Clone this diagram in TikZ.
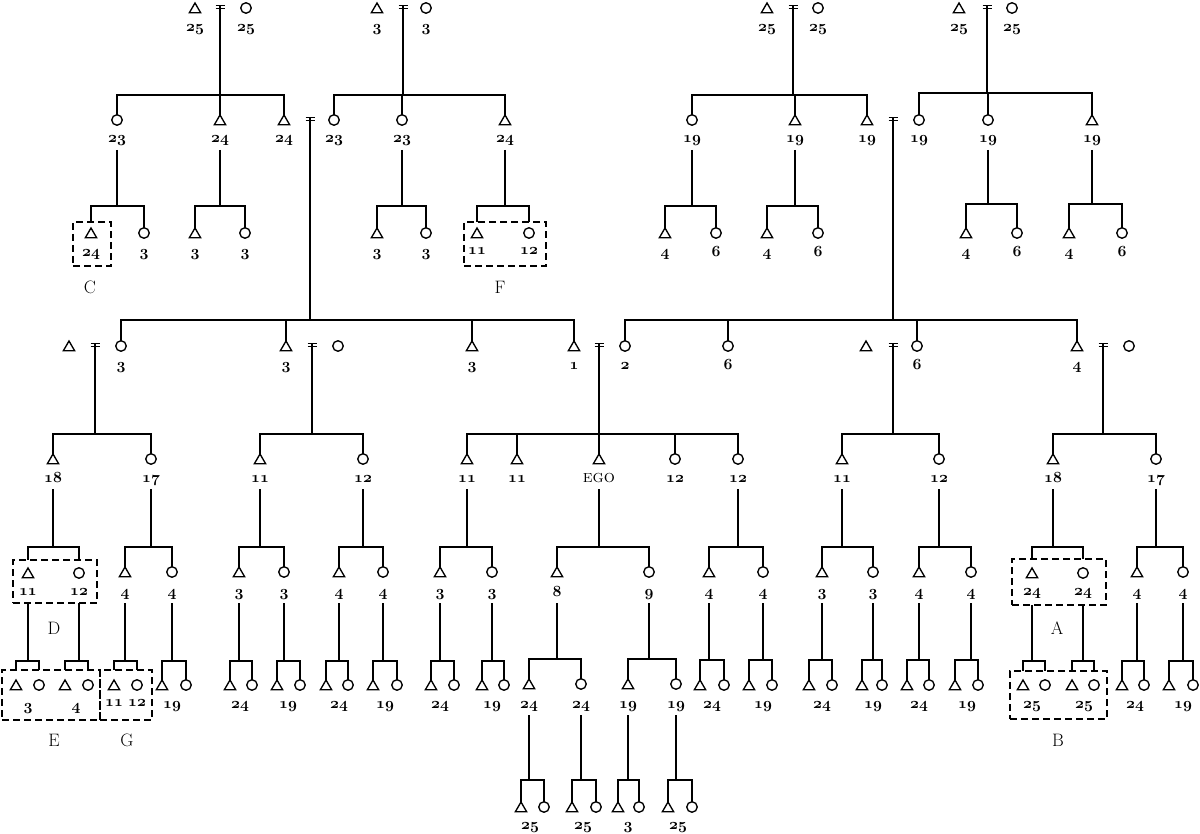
\RequirePackage{fix-cm}
\documentclass[tikz,border=0pt]{standalone}
\usetikzlibrary{shapes.geometric,fit}
\newcommand\osn[1]{{\fontsize{15.5}{17}\usefont{OML}{cmm}{b}{it}#1}}
\newcommand\Tri[3]{\node[male] (#1) at (#2,#3) {};}
\newcommand\Cir[3]{\node[female] (#1) at (#2,#3) {};}
\newcommand\Lab[4]{\node[lab] (#1) at (#2,#3) {\osn{#4}};}
\newcommand\Ltr[4]{\node[ltr] (#1) at (#2,#3) {\fontsize{18}{20}\selectfont #4};}
\newcommand\Eq[3]{\node[eqn] (#1) at (#2,#3) {};\draw[eqline] (#1.north west) -- (#1.north east) (#1.south west) -- (#1.south east);}
\newcommand\DBox[5]{\node[dbox, fit={(#2,#3) (#4,#5)}] (#1) {};}
\newcommand\Fam[6][0pt]{%
  \draw[ln, shorten <=#1] (#2) -- (#2 |- 0,#3);
  \draw[bar] (#4 |- 0,#3) -- (#5 |- 0,#3);
  \foreach \c in {#6}{\edef\famtmp{\noexpand\draw[ln] (\c |- 0,#3) -- (\c);}\famtmp}%
}
\begin{document}
\begin{tikzpicture}[x=1pt,y=-1pt,
 male/.style={regular polygon,regular polygon sides=3,draw,line width=1.35pt,minimum size=13pt,inner sep=0pt,outer sep=0pt,yshift=-1.5pt},
 female/.style={circle,draw,line width=1.35pt,minimum size=10.5pt,inner sep=0pt,outer sep=0pt},
 lab/.style={anchor=base,inner sep=0pt,outer sep=0pt,text depth=4pt},
 ltr/.style={anchor=base,inner sep=0pt},
 eqn/.style={minimum width=9pt,minimum height=3pt,inner sep=0pt,outer sep=0pt},
 eqline/.style={line width=1.3pt},
 ln/.style={line width=1.7pt},
 bar/.style={line width=2.3pt,line cap=rect},
 dbox/.style={draw,dash pattern=on 7pt off 4pt,line width=1.5pt,inner sep=0pt,outer sep=0pt}]
\useasboundingbox (0,0) rectangle (1200,834);

% ---------------- top couples
\Tri{t1m}{195}{8}\Eq{t1e}{220}{7}\Cir{t1f}{246}{8}
\Lab{t1ml}{195}{32}{25}\Lab{t1fl}{246}{32}{25}
\Tri{t2m}{377}{8}\Eq{t2e}{403}{7}\Cir{t2f}{426}{8}
\Lab{t2ml}{377}{32}{3}\Lab{t2fl}{426}{32}{3}
\Tri{t3m}{767}{8}\Eq{t3e}{793}{7}\Cir{t3f}{818}{8}
\Lab{t3ml}{767}{32}{25}\Lab{t3fl}{818}{32}{25}
\Tri{t4m}{959}{8}\Eq{t4e}{987}{7}\Cir{t4f}{1012}{8}
\Lab{t4ml}{959}{32}{25}\Lab{t4fl}{1012}{32}{25}

% ---------------- second row
\Cir{a1}{117}{120}\Lab{a1l}{117}{143}{23}
\Tri{a2}{220}{120}\Lab{a2l}{220}{143}{24}
\Tri{a3}{284}{120}\Lab{a3l}{284}{143}{24}
\Eq{a3e}{310}{119}
\Cir{b1}{334}{120}\Lab{b1l}{334}{143}{23}
\Cir{b2}{402}{120}\Lab{b2l}{402}{143}{23}
\Tri{b3}{505}{120}\Lab{b3l}{505}{143}{24}
\Cir{c1}{692}{120}\Lab{c1l}{692}{143}{19}
\Tri{c2}{795}{120}\Lab{c2l}{795}{143}{19}
\Tri{c3}{867}{120}\Lab{c3l}{867}{143}{19}
\Eq{c3e}{893}{119}
\Cir{d1}{919}{120}\Lab{d1l}{919}{143}{19}
\Cir{d2}{988}{120}\Lab{d2l}{988}{143}{19}
\Tri{d3}{1092}{120}\Lab{d3l}{1092}{143}{19}

\Fam{t1e.north}{95}{a1.north}{a3.north}{a1.north,a2.north,a3.north}
\Fam{t2e.north}{95}{b1.north}{b3.north}{b1.north,b2.north,b3.north}
\Fam{t3e.north}{95}{c1.north}{c3.north}{c1.north,c2.north,c3.north}
\Fam{t4e.north}{93}{d1.north}{d3.north}{d1.north,d2.north,d3.north}

% ---------------- third row
\Tri{a1k1}{91}{233}\Lab{a1k1l}{91}{257}{24}
\Cir{a1k2}{144}{233}\Lab{a1k2l}{144}{257}{3}
\DBox{boxC}{73}{222}{111}{266}
\coordinate (a1k1t) at (a1k1 |- boxC.north);
\Ltr{ltrC}{90}{294}{C}
\Fam[3pt]{a1l.south}{206}{a1k1t}{a1k2.north}{a1k1t,a1k2.north}

\Tri{a2k1}{195}{233}\Lab{a2k1l}{195}{257}{3}
\Cir{a2k2}{245}{233}\Lab{a2k2l}{245}{257}{3}
\Fam[3pt]{a2l.south}{206}{a2k1.north}{a2k2.north}{a2k1.north,a2k2.north}

\Tri{b2k1}{377}{233}\Lab{b2k1l}{377}{257}{3}
\Cir{b2k2}{426}{233}\Lab{b2k2l}{426}{257}{3}
\Fam[3pt]{b2l.south}{206}{b2k1.north}{b2k2.north}{b2k1.north,b2k2.north}

\Tri{b3k1}{477}{233}\Lab{b3k1l}{477}{255}{11}
\Cir{b3k2}{529}{233}\Lab{b3k2l}{529}{255}{12}
\DBox{boxF}{464}{222}{546}{266}
\coordinate (b3k1t) at (b3k1 |- boxF.north);
\coordinate (b3k2t) at (b3k2 |- boxF.north);
\Ltr{ltrF}{500}{294}{F}
\Fam[3pt]{b3l.south}{206}{b3k1t}{b3k2t}{b3k1t,b3k2t}

\Tri{c1k1}{665}{233}\Lab{c1k1l}{665}{257}{4}
\Cir{c1k2}{716}{233}\Lab{c1k2l}{716}{257}{6}
\Fam[3pt]{c1l.south}{206}{c1k1.north}{c1k2.north}{c1k1.north,c1k2.north}
\Tri{c2k1}{767}{233}\Lab{c2k1l}{767}{257}{4}
\Cir{c2k2}{818}{233}\Lab{c2k2l}{818}{257}{6}
\Fam[3pt]{c2l.south}{206}{c2k1.north}{c2k2.north}{c2k1.north,c2k2.north}
\Tri{d2k1}{966}{233}\Lab{d2k1l}{966}{257}{4}
\Cir{d2k2}{1017}{233}\Lab{d2k2l}{1017}{257}{6}
\Fam[3pt]{d2l.south}{204}{d2k1.north}{d2k2.north}{d2k1.north,d2k2.north}
\Tri{d3k1}{1069}{233}\Lab{d3k1l}{1069}{257}{4}
\Cir{d3k2}{1122}{233}\Lab{d3k2l}{1122}{257}{6}
\Fam[3pt]{d3l.south}{204}{d3k1.north}{d3k2.north}{d3k1.north,d3k2.north}

% ---------------- middle generation
\Tri{s1}{69}{346}\Eq{s1e}{95}{345}\Cir{m1}{121}{346}\Lab{m1l}{121}{370}{3}
\Tri{m2}{286}{346}\Lab{m2l}{286}{370}{3}\Eq{m2e}{312}{345}\Cir{s2}{338}{346}
\Tri{m3}{472}{346}\Lab{m3l}{472}{370}{3}
\Tri{m4}{574}{346}\Lab{m4l}{574}{370}{1}\Eq{m4e}{599}{345}
\Cir{n1}{625}{346}\Lab{n1l}{625}{370}{2}
\Cir{n2}{728}{346}\Lab{n2l}{728}{370}{6}
\Tri{s3}{866}{346}\Eq{s3e}{893}{345}\Cir{n3}{917}{346}\Lab{n3l}{917}{370}{6}
\Tri{n4}{1077}{346}\Lab{n4l}{1077}{370}{4}\Eq{n4e}{1103}{345}\Cir{s4}{1129}{346}

\Fam{a3e.north}{320}{m1.north}{m4.north}{m1.north,m2.north,m3.north,m4.north}
\Fam{c3e.north}{320}{n1.north}{n4.north}{n1.north,n2.north,n3.north,n4.north}

% ---------------- row N
\Tri{p1}{53}{459}\Lab{p1l}{53}{482}{18}
\Cir{p2}{151}{459}\Lab{p2l}{151}{482}{17}
\Tri{p3}{260}{459}\Lab{p3l}{260}{482}{11}
\Cir{p4}{363}{459}\Lab{p4l}{363}{482}{12}
\Tri{p5}{467}{459}\Lab{p5l}{467}{482}{11}
\Tri{p6}{517}{459}\Lab{p6l}{517}{482}{11}
\Tri{ego}{599}{459}\node[lab] (egol) at (599,482) {\fontsize{17.5}{19}\selectfont\textsc{ego}};
\Cir{p7}{675}{459}\Lab{p7l}{675}{482}{12}
\Cir{p8}{738}{459}\Lab{p8l}{738}{482}{12}
\Tri{p9}{842}{459}\Lab{p9l}{842}{482}{11}
\Cir{p10}{939}{459}\Lab{p10l}{939}{482}{12}
\Tri{p11}{1053}{459}\Lab{p11l}{1053}{482}{18}
\Cir{p12}{1156}{459}\Lab{p12l}{1156}{482}{17}

\Fam{s1e.north}{434}{p1.north}{p2.north}{p1.north,p2.north}
\Fam{m2e.north}{434}{p3.north}{p4.north}{p3.north,p4.north}
\Fam{m4e.north}{434}{p5.north}{p8.north}{p5.north,p6.north,ego.north,p7.north,p8.north}
\Fam{s3e.north}{434}{p9.north}{p10.north}{p9.north,p10.north}
\Fam{n4e.north}{434}{p11.north}{p12.north}{p11.north,p12.north}

% ---------------- row O
\Tri{q1}{28}{573}\Lab{q1l}{28}{595}{11}
\Cir{q2}{79}{573}\Lab{q2l}{79}{595}{12}
\DBox{boxD}{13}{560}{97}{603}
\coordinate (q1t) at (q1 |- boxD.north);\coordinate (q2t) at (q2 |- boxD.north);
\coordinate (q1b) at (q1 |- boxD.south);\coordinate (q2b) at (q2 |- boxD.south);
\Ltr{ltrD}{54}{634}{D}
\Tri{q3}{125}{572}\Lab{q3l}{125}{596}{4}
\Cir{q4}{172}{572}\Lab{q4l}{172}{596}{4}
\Tri{q5}{239}{572}\Lab{q5l}{239}{596}{3}
\Cir{q6}{284}{572}\Lab{q6l}{284}{596}{3}
\Tri{q7}{339}{572}\Lab{q7l}{339}{596}{4}
\Cir{q8}{383}{572}\Lab{q8l}{383}{596}{4}
\Tri{q9}{440}{572}\Lab{q9l}{440}{596}{3}
\Cir{q10}{492}{572}\Lab{q10l}{492}{596}{3}
\Tri{q11}{557}{572}\Lab{q11l}{557}{596}{8}
\Cir{q12}{649}{572}\Lab{q12l}{649}{596}{9}
\Tri{q13}{709}{572}\Lab{q13l}{709}{596}{4}
\Cir{q14}{763}{572}\Lab{q14l}{763}{596}{4}
\Tri{q15}{822}{572}\Lab{q15l}{822}{596}{3}
\Cir{q16}{873}{572}\Lab{q16l}{873}{596}{3}
\Tri{q17}{919}{572}\Lab{q17l}{919}{596}{4}
\Cir{q18}{971}{572}\Lab{q18l}{971}{596}{4}
\Tri{q19}{1032}{573}\Lab{q19l}{1032}{595}{24}
\Cir{q20}{1083}{573}\Lab{q20l}{1083}{595}{24}
\DBox{boxA}{1012}{559}{1106}{605}
\coordinate (q19t) at (q19 |- boxA.north);\coordinate (q20t) at (q20 |- boxA.north);
\coordinate (q19b) at (q19 |- boxA.south);\coordinate (q20b) at (q20 |- boxA.south);
\Ltr{ltrA}{1057}{634}{A}
\Tri{q21}{1137}{572}\Lab{q21l}{1137}{596}{4}
\Cir{q22}{1183}{572}\Lab{q22l}{1183}{596}{4}

\Fam[3pt]{p1l.south}{547}{q1t}{q2t}{q1t,q2t}
\Fam[3pt]{p2l.south}{547}{q3.north}{q4.north}{q3.north,q4.north}
\Fam[3pt]{p3l.south}{547}{q5.north}{q6.north}{q5.north,q6.north}
\Fam[3pt]{p4l.south}{547}{q7.north}{q8.north}{q7.north,q8.north}
\Fam[3pt]{p5l.south}{547}{q9.north}{q10.north}{q9.north,q10.north}
\Fam[3pt]{egol.south}{547}{q11.north}{q12.north}{q11.north,q12.north}
\Fam[3pt]{p8l.south}{547}{q13.north}{q14.north}{q13.north,q14.north}
\Fam[3pt]{p9l.south}{547}{q15.north}{q16.north}{q15.north,q16.north}
\Fam[3pt]{p10l.south}{547}{q17.north}{q18.north}{q17.north,q18.north}
\Fam[3pt]{p11l.south}{547}{q19t}{q20t}{q19t,q20t}
\Fam[3pt]{p12l.south}{547}{q21.north}{q22.north}{q21.north,q22.north}

% ---------------- row P
\Tri{r1}{16}{685}\Cir{r2}{39}{685}\Lab{rl1}{28}{710}{3}
\Tri{r3}{65}{685}\Cir{r4}{88}{685}\Lab{rl2}{76}{710}{4}
\DBox{boxE}{2}{670}{100}{720}
\Tri{r5}{114}{685}\Lab{r5l}{114}{706}{11}
\Cir{r6}{137}{685}\Lab{r6l}{137}{706}{12}
\DBox{boxG}{100}{670}{152}{720}
\coordinate (r1t) at (r1 |- boxE.north);\coordinate (r2t) at (r2 |- boxE.north);
\coordinate (r3t) at (r3 |- boxE.north);\coordinate (r4t) at (r4 |- boxE.north);
\coordinate (r5t) at (r5 |- boxG.north);\coordinate (r6t) at (r6 |- boxG.north);
\Ltr{ltrE}{54}{746}{E}
\Ltr{ltrG}{127}{746}{G}
\Tri{r7}{162}{685}\Cir{r8}{186}{685}\Lab{rl4}{172}{708}{19}
\Tri{r9}{230}{685}\Cir{r10}{252}{685}\Lab{rl5}{240}{708}{24}
\Tri{r11}{277}{685}\Cir{r12}{300}{685}\Lab{rl6}{288}{708}{19}
\Tri{r13}{326}{685}\Cir{r14}{348}{685}\Lab{rl7}{339}{708}{24}
\Tri{r15}{373}{685}\Cir{r16}{397}{685}\Lab{rl8}{385}{708}{19}
\Tri{r17}{431}{685}\Cir{r18}{454}{685}\Lab{rl9}{440}{708}{24}
\Tri{r19}{482}{685}\Cir{r20}{504}{685}\Lab{rl10}{492}{708}{19}
\Tri{r21}{529}{684}\Lab{r21l}{529}{708}{24}
\Cir{r22}{581}{684}\Lab{r22l}{581}{708}{24}
\Tri{r23}{628}{684}\Lab{r23l}{628}{708}{19}
\Cir{r24}{676}{684}\Lab{r24l}{676}{708}{19}
\Tri{r25}{700}{685}\Cir{r26}{724}{685}\Lab{rl13}{712}{708}{24}
\Tri{r27}{749}{685}\Cir{r28}{772}{685}\Lab{rl14}{763}{708}{19}
\Tri{r29}{809}{685}\Cir{r30}{832}{685}\Lab{rl15}{822}{708}{24}
\Tri{r31}{862}{685}\Cir{r32}{882}{685}\Lab{rl16}{873}{708}{19}
\Tri{r33}{907}{685}\Cir{r34}{929}{685}\Lab{rl17}{919}{708}{24}
\Tri{r35}{955}{685}\Cir{r36}{978}{685}\Lab{rl18}{967}{708}{19}
\Tri{r37}{1023}{685}\Cir{r38}{1045}{685}\Lab{rl19}{1032}{708}{25}
\Tri{r39}{1072}{685}\Cir{r40}{1094}{685}\Lab{rl20}{1084}{708}{25}
\DBox{boxB}{1010}{671}{1107}{719}
\coordinate (r37t) at (r37 |- boxB.north);\coordinate (r38t) at (r38 |- boxB.north);
\coordinate (r39t) at (r39 |- boxB.north);\coordinate (r40t) at (r40 |- boxB.north);
\Ltr{ltrB}{1058}{746}{B}
\Tri{r41}{1122}{685}\Cir{r42}{1144}{685}\Lab{rl21}{1135}{708}{24}
\Tri{r43}{1169}{685}\Cir{r44}{1193}{685}\Lab{rl22}{1183}{708}{19}

\Fam{q1b}{661}{r1t}{r2t}{r1t,r2t}
\Fam{q2b}{661}{r3t}{r4t}{r3t,r4t}
\Fam[3pt]{q3l.south}{661}{r5t}{r6t}{r5t,r6t}
\Fam[3pt]{q4l.south}{661}{r7.north}{r8.north}{r7.north,r8.north}
\Fam[3pt]{q5l.south}{661}{r9.north}{r10.north}{r9.north,r10.north}
\Fam[3pt]{q6l.south}{661}{r11.north}{r12.north}{r11.north,r12.north}
\Fam[3pt]{q7l.south}{661}{r13.north}{r14.north}{r13.north,r14.north}
\Fam[3pt]{q8l.south}{661}{r15.north}{r16.north}{r15.north,r16.north}
\Fam[3pt]{q9l.south}{661}{r17.north}{r18.north}{r17.north,r18.north}
\Fam[3pt]{q10l.south}{661}{r19.north}{r20.north}{r19.north,r20.north}
\Fam[3pt]{q11l.south}{659}{r21.north}{r22.north}{r21.north,r22.north}
\Fam[3pt]{q12l.south}{659}{r23.north}{r24.north}{r23.north,r24.north}
\Fam[3pt]{q13l.south}{660}{r25.north}{r26.north}{r25.north,r26.north}
\Fam[3pt]{q14l.south}{660}{r27.north}{r28.north}{r27.north,r28.north}
\Fam[3pt]{q15l.south}{660}{r29.north}{r30.north}{r29.north,r30.north}
\Fam[3pt]{q16l.south}{660}{r31.north}{r32.north}{r31.north,r32.north}
\Fam[3pt]{q17l.south}{660}{r33.north}{r34.north}{r33.north,r34.north}
\Fam[3pt]{q18l.south}{660}{r35.north}{r36.north}{r35.north,r36.north}
\Fam{q19b}{661}{r37t}{r38t}{r37t,r38t}
\Fam{q20b}{661}{r39t}{r40t}{r39t,r40t}
\Fam[3pt]{q21l.south}{661}{r41.north}{r42.north}{r41.north,r42.north}
\Fam[3pt]{q22l.south}{661}{r43.north}{r44.north}{r43.north,r44.north}

% ---------------- row Q
\Tri{u1}{521}{807}\Cir{u2}{544}{807}\Lab{ul1}{530}{829}{25}
\Tri{u3}{572}{807}\Cir{u4}{596}{807}\Lab{ul2}{583}{829}{25}
\Tri{u5}{618}{807}\Cir{u6}{639}{807}\Lab{ul3}{628}{829}{3}
\Tri{u7}{668}{807}\Cir{u8}{692}{807}\Lab{ul4}{678}{829}{25}
\Fam[3pt]{r21l.south}{780}{u1.north}{u2.north}{u1.north,u2.north}
\Fam[3pt]{r22l.south}{780}{u3.north}{u4.north}{u3.north,u4.north}
\Fam[3pt]{r23l.south}{780}{u5.north}{u6.north}{u5.north,u6.north}
\Fam[3pt]{r24l.south}{780}{u7.north}{u8.north}{u7.north,u8.north}
\end{tikzpicture}
\end{document}
